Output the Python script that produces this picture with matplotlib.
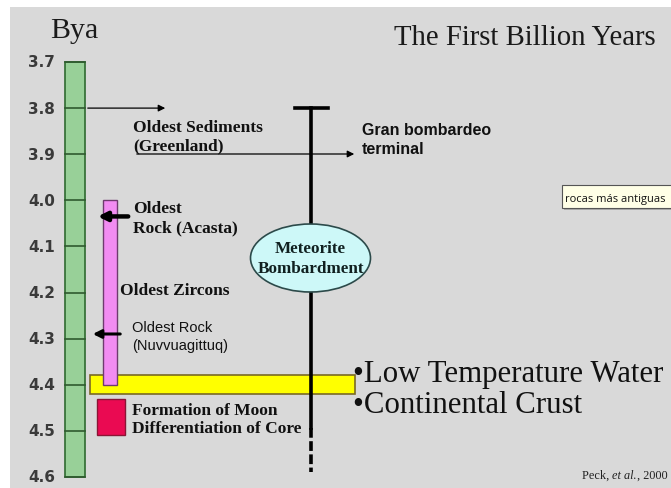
import matplotlib
matplotlib.use('Agg')
import matplotlib.pyplot as plt
from matplotlib.patches import Rectangle, Ellipse

# ages in billions of years ago (Bya)
tick_ages = [3.7, 3.8, 3.9, 4.0, 4.1, 4.2, 4.3, 4.4, 4.5, 4.6]
tick_labels = ['3.7', '3.8', '3.9', '4.0', '4.1', '4.2', '4.3', '4.4', '4.5', '4.6']
timeline = (3.7, 4.6)
zircons = (4.0, 4.4)
low_temp_water = (4.38, 4.42)
moon_core = (4.43, 4.51)
sediments_age = 3.8
acasta_age = 4.035
nuvvuagittuq_age = 4.29
bombardment = (3.8, 4.495, 4.59)   # top, start of dashed part, end

# figure is 671x489 px; x axis is in pixels, y axis in Bya
W, H = 671, 489
Y0, SCALE = 63, 461.0   # pixel row of 3.7 Bya, pixels per Bya


def bya(py):
    # pixel row -> age, only used to place the text
    return timeline[0] + (py - Y0) / SCALE


SERIF = 'Liberation Serif'
SANS = 'Liberation Sans'
plt.rcParams['lines.scale_dashes'] = False

fig = plt.figure(figsize=(W / 100, H / 100), dpi=100)
fig.patch.set_facecolor('white')
ax = fig.add_axes([0, 0, 1, 1])
ax.set_xlim(0, W)
ax.set_ylim(bya(H), bya(0))
ax.axis('off')

# grey slide background
ax.add_patch(Rectangle((10, bya(H)), W, bya(8) - bya(H), facecolor='#d9d9d9',
                       edgecolor='none', zorder=0))

# green timeline bar with its tick lines
ax.add_patch(Rectangle((65, timeline[0]), 20, timeline[1] - timeline[0],
                       facecolor='#98d098', edgecolor='#2f6a30', lw=1.2, zorder=2))
for age, lab in zip(tick_ages, tick_labels):
    ax.plot([65, 85], [age, age], color='#2f5a2f', lw=1.2, zorder=3)
    ax.text(55, age, lab, ha='right', va='center', fontsize=11, fontweight='bold',
            color='#3a3a3a', family='DejaVu Sans')

ax.text(74, bya(38), 'Bya', ha='center', va='baseline', fontsize=21.5, family=SERIF,
        color='#1a1a1a')
ax.text(394, bya(45), 'The First Billion Years', ha='left', va='baseline', fontsize=20.7,
        family=SERIF, color='#1a1a1a')

# oldest zircons (pink bar)
ax.add_patch(Rectangle((103, zircons[0]), 14, zircons[1] - zircons[0],
                       facecolor='#f28cf2', edgecolor='#6e3a6e', lw=1, zorder=3))

# low temperature water (yellow bar)
ax.add_patch(Rectangle((90, low_temp_water[0]), 265, low_temp_water[1] - low_temp_water[0],
                       facecolor='#ffff00', edgecolor='#7a6a25', lw=1.2, zorder=2))

# formation of moon (red square)
ax.add_patch(Rectangle((97, moon_core[0]), 28, moon_core[1] - moon_core[0],
                       facecolor='#ea0a52', edgecolor='#8a1535', lw=1, zorder=3))

# meteorite bombardment line
ax.plot([311, 311], [bombardment[0], bombardment[1]], color='black', lw=2.6, zorder=2)
ax.plot([311, 311], [bombardment[1], bombardment[2]], color='black', lw=2.6,
        dashes=(7, 2.5), zorder=2)
ax.plot([295, 328], [bombardment[0], bombardment[0]], color='black', lw=2.6, zorder=2)
ax.add_patch(Ellipse((310.5, bya(259)), 120, 68 / SCALE, facecolor='#cdf8f8',
                     edgecolor='#2c4a4a', lw=1.2, zorder=4))
ax.text(310.5, bya(253), 'Meteorite', ha='center', va='baseline', fontsize=12.3,
        fontweight='bold', family=SERIF, color='#102020', zorder=5)
ax.text(310.5, bya(273), 'Bombardment', ha='center', va='baseline', fontsize=12.3,
        fontweight='bold', family=SERIF, color='#102020', zorder=5)

# arrows
ax.annotate('', xy=(168, sediments_age), xytext=(85, sediments_age),
            arrowprops=dict(arrowstyle='-|>', color='black', lw=0.9, mutation_scale=10))
ax.annotate('', xy=(357, bya(155)), xytext=(134, bya(155)),
            arrowprops=dict(arrowstyle='-|>', color='black', lw=0.9, mutation_scale=10))
ax.annotate('', xy=(95, acasta_age), xytext=(131, acasta_age),
            arrowprops=dict(arrowstyle='-|>', color='black', lw=3.2, mutation_scale=13),
            zorder=6)
ax.annotate('', xy=(90, nuvvuagittuq_age), xytext=(123, nuvvuagittuq_age),
            arrowprops=dict(arrowstyle='-|>', color='black', lw=2.2, mutation_scale=12),
            zorder=6)

# labels
bold_serif = dict(family=SERIF, fontweight='bold', fontsize=12.5, color='#111111',
                  va='baseline', ha='left')
ax.text(133, bya(132), 'Oldest Sediments', **bold_serif)
ax.text(133, bya(150), '(Greenland)', **bold_serif)
ax.text(133, bya(213), 'Oldest', **bold_serif)
ax.text(133, bya(232), 'Rock (Acasta)', **bold_serif)
ax.text(120, bya(295), 'Oldest Zircons', **bold_serif)
ax.text(132, bya(415), 'Formation of Moon', **bold_serif)
ax.text(132, bya(433), 'Differentiation of Core', **bold_serif)

ax.text(362, bya(135), 'Gran bombardeo', family=SANS, fontweight='bold', fontsize=11.5,
        color='#111111', va='baseline')
ax.text(362, bya(154), 'terminal', family=SANS, fontweight='bold', fontsize=11.5,
        color='#111111', va='baseline')
ax.text(132, bya(332), 'Oldest Rock', family=SANS, fontsize=10.5, color='#111111',
        va='baseline')
ax.text(132, bya(350), '(Nuvvuagittuq)', family=SANS, fontsize=10.5, color='#111111',
        va='baseline')

ax.text(353, bya(382), '\u2022Low Temperature Water', family=SERIF, fontsize=22.2,
        color='#111111', va='baseline')
ax.text(353, bya(413), '\u2022Continental Crust', family=SERIF, fontsize=22.2,
        color='#111111', va='baseline')

# citation, pieced together so "et al." can be italic
renderer = fig.canvas.get_renderer()
x = 582
for piece, st in [('Peck, ', 'normal'), ('et al.', 'italic'), (', 2000', 'normal')]:
    t = ax.text(x, bya(479), piece, family=SERIF, fontsize=8.8, style=st,
                color='#222222', va='baseline')
    bb = t.get_window_extent(renderer=renderer)
    x += bb.width

# tooltip box
ax.add_patch(Rectangle((564, bya(211)), 110, bya(188) - bya(211), facecolor='#aaaaaa',
                       edgecolor='none', zorder=6))
ax.add_patch(Rectangle((562, bya(209)), 112, bya(186) - bya(209), facecolor='#ffffe6',
                       edgecolor='#555555', lw=0.8, zorder=7))
ax.text(565, bya(202), 'rocas más antiguas', family='Open Sans', fontsize=8,
        color='#111111', va='baseline', zorder=8)

fig.savefig('out.png', dpi=100)
